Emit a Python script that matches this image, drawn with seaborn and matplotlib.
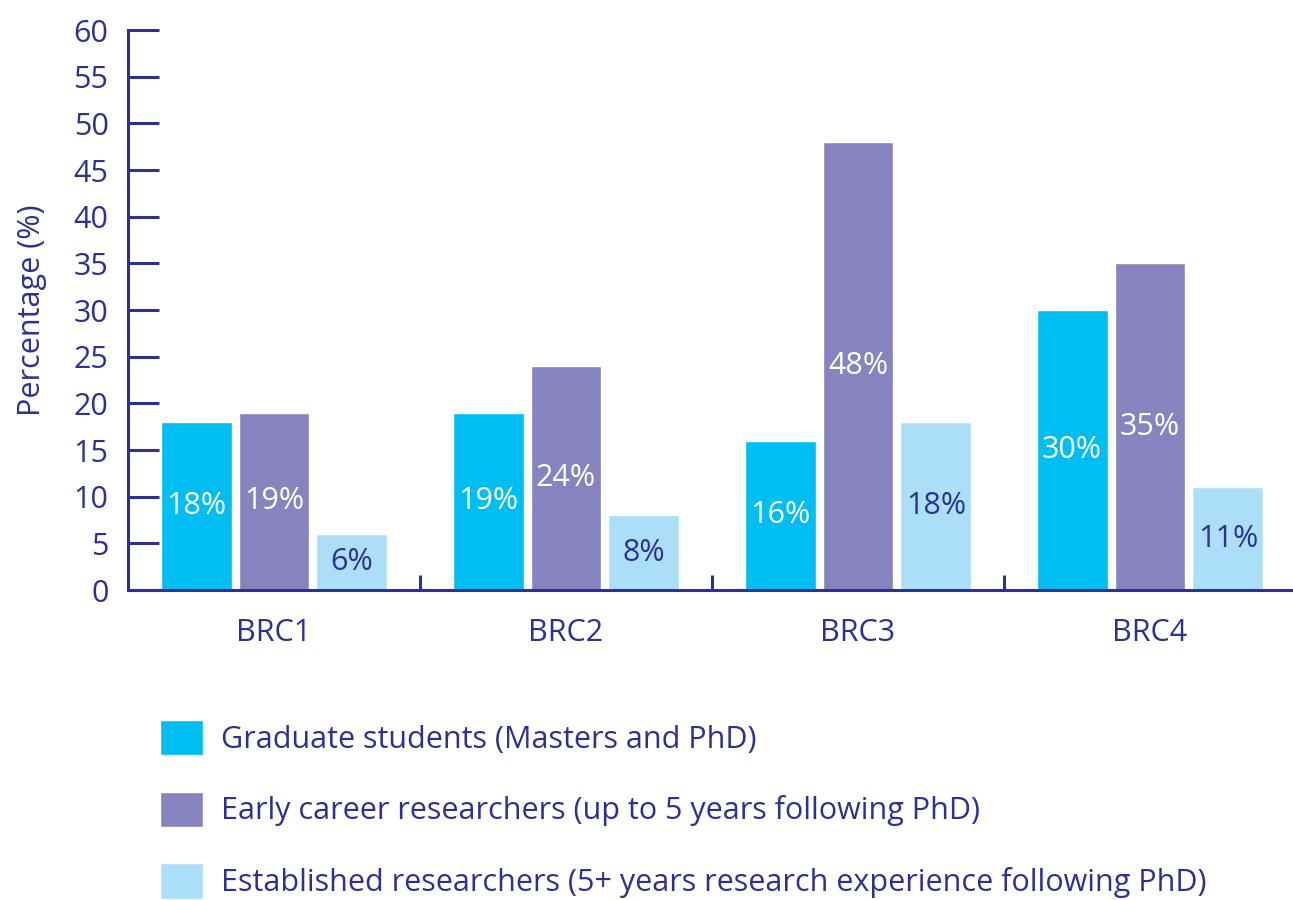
import pandas as pd
from matplotlib import pyplot as plt
import seaborn as sns

# chart data
centres = ['BRC1', 'BRC2', 'BRC3', 'BRC4']
groups = ['Graduate students (Masters and PhD)',
          'Early career researchers (up to 5 years following PhD)',
          'Established researchers (5+ years research experience following PhD)']
graduate = [18, 19, 16, 30]
early = [19, 24, 48, 35]
established = [6, 8, 18, 11]

colours = ['#00BDF2', '#8783BE', '#ABDFF8']
navy = '#2E3192'
fs = 22

# long table for seaborn
rows = []
for grp, vals in zip(groups, [graduate, early, established]):
    for c, v in zip(centres, vals):
        rows.append({'centre': c, 'group': grp, 'value': v})
df = pd.DataFrame(rows)

sns.set_theme(style='white')
plt.rcParams['font.family'] = ['Open Sans', 'DejaVu Sans']

fig = plt.figure(figsize=(12.93, 9), dpi=100)
ax = fig.add_axes([128 / 1293, 1 - 590 / 900, (1296 - 128) / 1293, 560 / 900])

sns.barplot(data=df, x='centre', y='value', hue='group', palette=colours,
            width=0.8, gap=0.09, saturation=1, ax=ax, legend=True)

# value labels in the middle of each bar
label_colours = ['white', 'white', navy]
for cont, vals, lc in zip(ax.containers, [graduate, early, established], label_colours):
    ax.bar_label(cont, labels=[f'{v}%' for v in vals], label_type='center',
                 color=lc, fontsize=fs)

ax.set_xlim(-0.5, 3.5)
ax.set_ylim(0, 60)
ax.set_yticks(range(0, 61, 5))
ax.set_xlabel('')
ax.set_ylabel('Percentage (%)', color=navy, fontsize=fs, labelpad=19)

for side in ['top', 'right']:
    ax.spines[side].set_visible(False)
for side in ['left', 'bottom']:
    ax.spines[side].set_color(navy)
    ax.spines[side].set_linewidth(2.2)

ax.tick_params(axis='y', direction='in', length=22, width=2.2, color=navy,
               labelcolor=navy, labelsize=fs, pad=14, left=True)
ax.tick_params(axis='x', which='major', length=0, labelcolor=navy,
               labelsize=fs, pad=20)
ax.set_xticks([0.5, 1.5, 2.5], minor=True)
ax.tick_params(axis='x', which='minor', direction='in', length=11, width=2.2,
               color=navy, bottom=True)

# legend below the plot
handles, labels = ax.get_legend_handles_labels()
ax.get_legend().remove()
fig.legend(handles, labels, loc='upper left',
           bbox_to_anchor=(160 / 1293, 1 - 720 / 900),
           frameon=False, borderpad=0, borderaxespad=0,
           handlelength=1.41, handleheight=1.41, handletextpad=0.6,
           labelspacing=1.18, fontsize=fs, labelcolor=navy)

fig.savefig('out.png', dpi=100)
